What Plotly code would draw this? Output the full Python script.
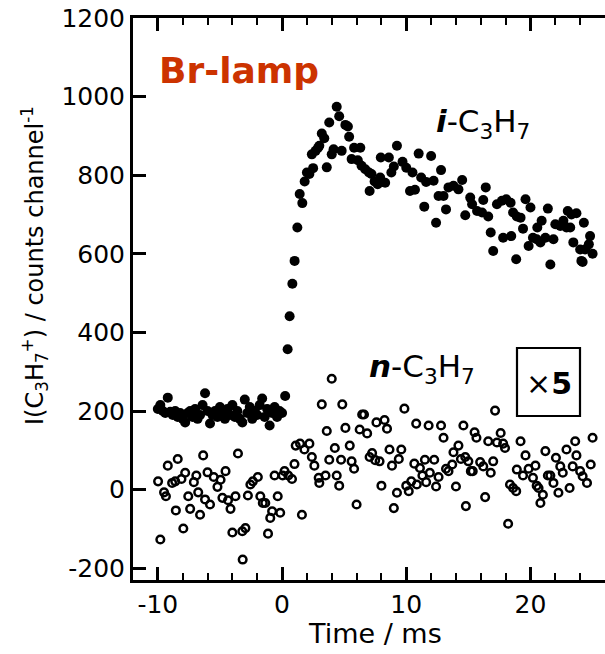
import plotly.graph_objects as go

# ---------------- data ----------------
# i-C3H7 (filled circles)
i_time = [
    -10.0, -9.8, -9.6, -9.4, -9.2, -9.0, -8.8, -8.6, -8.4, -8.2,
    -8.0, -7.8, -7.6, -7.4, -7.2, -7.0, -6.8, -6.6, -6.4, -6.2,
    -6.0, -5.8, -5.6, -5.4, -5.2, -5.0, -4.8, -4.6, -4.4, -4.2,
    -4.0, -3.8, -3.6, -3.4, -3.2, -3.0, -2.8, -2.6, -2.4, -2.2,
    -2.0, -1.8, -1.6, -1.4, -1.2, -1.0, -0.8, -0.6, -0.4, -0.2,
    0.0, 0.25,
    0.45, 0.61, 0.83, 1.01, 1.23, 1.42, 1.63, 1.82, 2.0, 2.2,
    2.4, 2.5, 2.7, 2.9, 3.0, 3.2, 3.4, 3.6, 3.8, 4.0,
    4.15, 4.4, 4.6, 4.8, 5.1, 5.3, 5.4, 5.6, 5.8, 6.1,
    6.3, 6.4, 6.7, 7.0, 7.05, 7.2, 7.45, 7.7, 7.9, 7.95,
    8.3, 8.6, 8.8, 9.0, 9.25, 9.7, 10.0,
    10.3, 10.5, 10.7, 11.0, 11.2, 11.45, 11.6, 12.0, 12.2, 12.4,
    12.6, 12.8, 13.0, 13.2, 13.4, 13.8, 14.2, 14.5, 14.75, 15.15,
    15.3, 15.7, 16.1, 16.2, 16.4, 16.6, 16.8, 17.0, 17.3, 17.7,
    17.8, 18.05, 18.4, 18.45, 18.6, 18.85, 18.9, 19.2, 19.4, 19.6,
    19.85, 20.0, 20.2, 20.5, 20.55, 20.8, 20.9, 21.2, 21.4, 21.6,
    21.85, 22.0, 22.4, 22.65, 22.9, 23.0, 23.2, 23.3, 23.45, 23.7,
    24.0, 24.1, 24.2, 24.3, 24.4, 24.7, 24.8, 25.0,
]
i_counts = [
    205, 215, 200, 195, 234, 198, 190, 200, 185, 195,
    180, 171, 195, 200, 185, 205, 180, 190, 215, 245,
    200, 168, 190, 200, 185, 210, 195, 180, 205, 190,
    215, 185, 200, 180, 171, 229, 195, 210, 180, 200,
    190, 215, 232, 185, 205, 163, 195, 210, 185, 200,
    195, 238,
    357, 441, 524, 582, 667, 752, 729, 784, 807, 803,
    853, 818, 862, 870, 875, 906, 894, 820, 934, 853,
    866, 974, 950, 862, 928, 924, 898, 841, 870, 838,
    870, 824, 815, 807, 760, 803, 784, 777, 794, 845,
    781, 845, 807, 822, 875, 834, 819,
    760, 807, 763, 855, 794, 720, 783, 849, 786, 679,
    747, 813, 747, 713, 769, 773, 764, 788, 698, 743,
    726, 709, 705, 737, 769, 695, 654, 607, 726, 735,
    641, 739, 730, 645, 705, 586, 695, 692, 664, 739,
    620, 718, 641, 637, 667, 629, 684, 641, 715, 573,
    637, 675, 671, 684, 667, 709, 667, 700, 629, 703,
    611, 582, 579, 679, 611, 624, 645, 600,
]

# n-C3H7 (open circles, x5)
n_time = [
    -9.98, -9.8, -9.5, -9.35, -9.2, -8.85, -8.6, -8.55, -8.4, -8.1,
    -7.95, -7.8, -7.55, -7.4, -7.1, -6.9, -6.75, -6.6, -6.35, -6.2,
    -6.0, -5.8, -5.5, -5.2, -4.95, -4.8, -4.55, -4.35, -4.15, -4.0,
    -3.75, -3.55, -3.2, -3.17, -2.95, -2.75, -2.55, -2.35, -1.95, -1.75,
    -1.55, -1.35, -1.13, -0.95, -0.8, -0.6, -0.35, -0.15, 0.05, 0.2,
    0.5, 0.8, 1.0, 1.1, 1.45, 1.6, 1.8, 2.2, 2.4, 2.6,
    2.95, 3.0, 3.2, 3.5, 3.6, 3.8, 4.0, 4.25, 4.4, 4.6,
    4.75, 4.85, 5.1, 5.45, 5.6, 5.8, 6.0, 6.25, 6.45, 6.6,
    6.85, 7.05, 7.25, 7.5, 7.6, 7.85, 8.0, 8.25, 8.45, 8.65,
    8.85, 9.0, 9.25, 9.4, 9.6, 9.85, 10.0, 10.2, 10.4, 10.65,
    10.8, 10.85, 11.1, 11.3, 11.5, 11.6, 11.8, 11.9, 12.25, 12.4,
    12.6, 12.8, 13.0, 13.2, 13.4, 13.7, 13.8, 14.0, 14.2, 14.4,
    14.6, 14.75, 14.8, 15.0, 15.2, 15.35, 15.5, 15.65, 15.95, 16.2,
    16.35, 16.6, 16.8, 17.0, 17.15, 17.3, 17.6, 17.8, 17.95, 18.2,
    18.35, 18.6, 18.85, 18.9, 19.2, 19.4, 19.6, 19.85, 20.2, 20.4,
    20.5, 20.65, 20.8, 21.0, 21.2, 21.4, 21.6, 21.85, 22.05, 22.25,
    22.4, 22.6, 22.9, 23.15, 23.4, 23.6, 23.7, 24.0, 24.2, 24.55,
    24.85, 25.0,
]
n_counts = [
    21, -127, -7, -17, 61, 17, 21, -53, 78, 27,
    -99, 43, -17, -49, 19, 36, -7, -64, 87, -25,
    44, -38, 32, 7, 25, -21, 47, -27, -49, -109,
    -17, 92, -106, -178, -98, -15, 13, 21, 32, -17,
    -34, -34, -112, -72, -55, 36, -17, -59, 36, 47,
    36, 27, 65, 112, 117, -64, 102, 117, 83, 61,
    30, 17, 217, 36, 149, 76, 282, 106, 36, 10,
    76, 217, 157, 112, 72, 53, -38, 153, 191, 191,
    143, 83, 93, 75, 171, 72, 10, 177, 155, 102,
    61, -47, -8, 78, 102, 206, 10, -4, 21, 66,
    168, 13, 55, 36, 76, 19, 163, 43, 76, 8,
    32, 163, 132, 53, 47, 64, 95, 8, 112, 78,
    163, 83, -42, 72, 47, 47, 146, 132, 70, 59,
    -19, 123, 43, 72, 201, 120, 144, 117, 106, -87,
    13, 4, -4, 51, 123, 36, 87, 53, 30, 61,
    10, 4, -34, -13, 98, 36, 36, 17, 81, -8,
    59, 43, 102, 4, 59, 123, 87, 47, 34, 17,
    64, 132,
]

x_range = [-12, 26]
y_range = [-230, 1200]
x_major = [-10, 0, 10, 20]
y_major = [-200, 0, 200, 400, 600, 800, 1000, 1200]

FONT = "DejaVu Sans"

# ---------------- figure ----------------
fig = go.Figure()
fig.add_trace(go.Scatter(
    x=i_time, y=i_counts, mode="markers",
    marker=dict(symbol="circle", size=10, color="black", line=dict(width=0)),
    cliponaxis=False, hoverinfo="skip"))
fig.add_trace(go.Scatter(
    x=n_time, y=n_counts, mode="markers",
    marker=dict(symbol="circle-open", size=7.6, color="black",
                line=dict(width=2.5, color="black")),
    cliponaxis=False, hoverinfo="skip"))

L, R, T, B = 133, 0, 18, 74
W, H = 605, 654
pw, ph = W - L - R, H - T - B


def px(xp):
    return (xp - L) / pw


def py(yp):
    return (H - B - yp) / ph


fig.update_layout(
    width=W, height=H,
    margin=dict(l=L, r=R, t=T, b=B, pad=0),
    paper_bgcolor="white", plot_bgcolor="white",
    showlegend=False,
    font=dict(family=FONT, color="black"),
    xaxis=dict(
        range=x_range, tickmode="array", tickvals=x_major,
        ticktext=[str(v) for v in x_major],
        ticks="inside", ticklen=13, tickwidth=3, tickcolor="black",
        showline=True, linewidth=3, linecolor="black", mirror="allticks",
        showgrid=False, zeroline=False,
        tickfont=dict(family=FONT, size=25, color="black"),
        minor=dict(tickmode="linear", tick0=0, dtick=2, ticks="inside",
                   ticklen=7, tickwidth=2, tickcolor="black", showgrid=False),
    ),
    yaxis=dict(
        range=y_range, tickmode="array", tickvals=y_major,
        ticktext=[str(v) for v in y_major],
        ticks="inside", ticklen=13, tickwidth=3, tickcolor="black",
        showline=True, linewidth=3, linecolor="black", mirror=False,
        showgrid=False, zeroline=False,
        tickfont=dict(family=FONT, size=25, color="black"),
    ),
)

ann = []
ann.append(dict(text="<b>Br-lamp</b>", x=px(157), y=py(71), xref="paper", yref="paper",
                xanchor="left", yanchor="middle", showarrow=False,
                font=dict(family=FONT, size=36, color="#cc3300")))
ann.append(dict(text="<b><i>i</i></b>-C<sub>3</sub>H<sub>7</sub>", x=px(434), y=py(124),
                xref="paper", yref="paper", xanchor="left", yanchor="middle",
                showarrow=False, font=dict(family=FONT, size=31, color="black")))
ann.append(dict(text="<b><i>n</i></b>-C<sub>3</sub>H<sub>7</sub>", x=px(367), y=py(369),
                xref="paper", yref="paper", xanchor="left", yanchor="middle",
                showarrow=False, font=dict(family=FONT, size=31, color="black")))
ann.append(dict(text="×<b>5</b>", x=px(548.5), y=py(383), xref="paper", yref="paper",
                xanchor="center", yanchor="middle", showarrow=False,
                font=dict(family=FONT, size=30, color="black")))
ann.append(dict(text="Time / ms", x=px(375), y=py(633), xref="paper", yref="paper",
                xanchor="center", yanchor="middle", showarrow=False,
                font=dict(family=FONT, size=27, color="black")))
ann.append(dict(text="I(C<sub>3</sub>H<sub>7</sub><sup>+</sup>) / counts channel<sup>-1</sup>",
                x=px(34), y=py(266), xref="paper", yref="paper", textangle=-90,
                xanchor="center", yanchor="middle", showarrow=False,
                font=dict(family=FONT, size=24, color="black")))
fig.update_layout(annotations=ann)

fig.add_shape(type="rect", xref="paper", yref="paper",
              x0=px(517), x1=px(580), y0=py(416), y1=py(348),
              line=dict(color="black", width=2.2), fillcolor="rgba(0,0,0,0)")

fig.write_html("out.html", config={"displayModeBar": False})
